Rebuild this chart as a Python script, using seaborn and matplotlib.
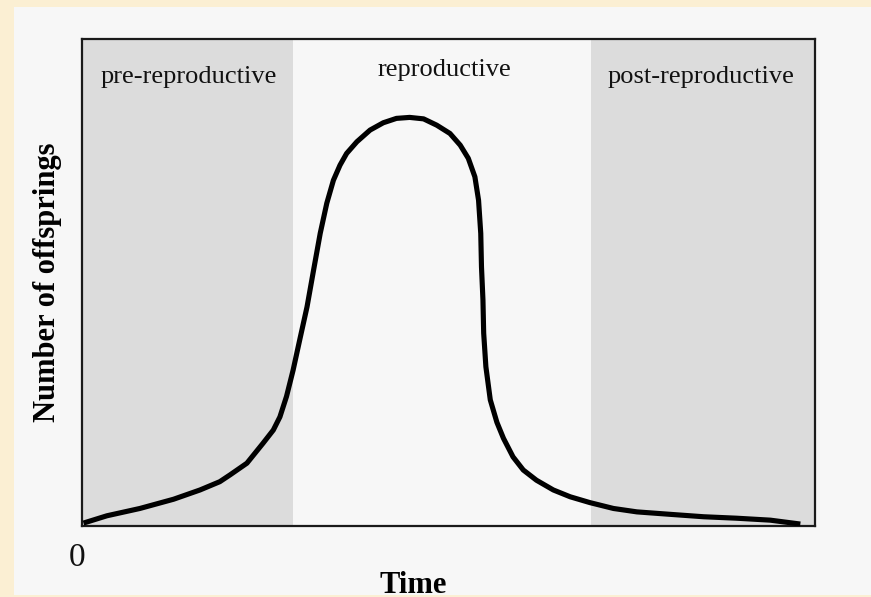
import matplotlib
matplotlib.use("Agg")
import matplotlib.pyplot as plt
import seaborn as sns
import pandas as pd
from matplotlib.patches import Rectangle

# ---- data (arbitrary units 0-100) ----
time = [0.2, 3.4, 7.9, 12.5, 16.1, 18.8, 20.2, 22.5, 24.7, 26.1, 27.0, 27.9,
        28.8, 29.7, 30.7, 31.6, 32.5, 33.4, 34.3, 35.2, 36.1, 37.5, 39.3, 41.1,
        42.9, 44.7, 46.6, 48.4, 50.2, 51.6, 52.7, 53.6, 54.1, 54.4, 54.5, 54.7,
        54.8, 55.1, 55.7, 56.6, 57.5, 58.8, 60.2, 62.0, 64.3, 66.6, 69.3, 72.5,
        75.7, 80.2, 84.8, 89.3, 93.9, 98.0]
offspring = [0.6, 2.1, 3.6, 5.5, 7.4, 9.1, 10.5, 12.9, 17.0, 19.7, 22.4, 26.6,
             32.0, 38.2, 45.0, 52.6, 60.1, 66.3, 71.0, 74.1, 76.5, 78.9, 81.3, 82.8,
             83.7, 83.9, 83.6, 82.3, 80.6, 78.2, 75.5, 71.7, 66.9, 60.1, 53.2, 46.4,
             39.6, 32.7, 25.9, 21.3, 18.0, 14.2, 11.5, 9.4, 7.4, 6.0, 4.8, 3.6,
             2.9, 2.4, 1.9, 1.6, 1.2, 0.4]
phase_names = ["pre-reproductive", "reproductive", "post-reproductive"]
phase_start = [0.0, 28.8, 69.4]
phase_end = [28.8, 69.4, 100.0]
phase_shaded = [True, False, True]
x_label = "Time"
y_label = "Number of offsprings"
origin_label = "0"

df = pd.DataFrame({"Time": time, "Offspring": offspring})

sns.set_theme(style="white")
plt.rcParams["font.family"] = ["Liberation Serif", "DejaVu Serif"]

fig = plt.figure(figsize=(8.71, 5.97), dpi=100)
fig.patch.set_facecolor("#fbefd3")
fig.patches.append(Rectangle((14 / 871, 2 / 597), 1 - 14 / 871, 1 - 9 / 597,
                             transform=fig.transFigure, facecolor="#f7f7f7",
                             edgecolor="none", zorder=-10))

ax = fig.add_axes([82 / 871, 71 / 597, 733 / 871, 487 / 597])
ax.set_zorder(1)
ax.set_facecolor("#f7f7f7")

for s, e, shaded in zip(phase_start, phase_end, phase_shaded):
    if shaded:
        ax.axvspan(s, e, color="#dcdcdc", lw=0, zorder=0)

sns.lineplot(data=df, x="Time", y="Offspring", ax=ax, color="black",
             linewidth=3.7, sort=False, zorder=3)
ax.lines[-1].set_solid_capstyle("butt")
ax.lines[-1].set_solid_joinstyle("round")

ax.set_xlim(0, 100)
ax.set_ylim(0, 100)

label_x = [14.6, 49.4, 84.4]
label_y = [92.2, 93.6, 92.2]
for name, lx, ly in zip(phase_names, label_x, label_y):
    ax.text(lx, ly, name, ha="center", va="center", fontsize=19, color="#111111")

ax.set_xticks([])
ax.set_yticks([])
ax.text(-0.7, -6.5, origin_label, ha="center", va="center", fontsize=24,
        color="#111111", clip_on=False)

ax.set_xlabel(x_label, fontsize=22, fontweight="bold", color="black")
ax.xaxis.set_label_coords((413 - 82) / 733, -0.093)
ax.set_ylabel(y_label, fontsize=22, fontweight="bold", color="black")
ax.yaxis.set_label_coords(-(82 - 62) / 733, 0.5)

for sp in ax.spines.values():
    sp.set_visible(True)
    sp.set_color("#1a1a1a")
    sp.set_linewidth(1.6)

fig.savefig("out.png", dpi=100, facecolor=fig.get_facecolor())
